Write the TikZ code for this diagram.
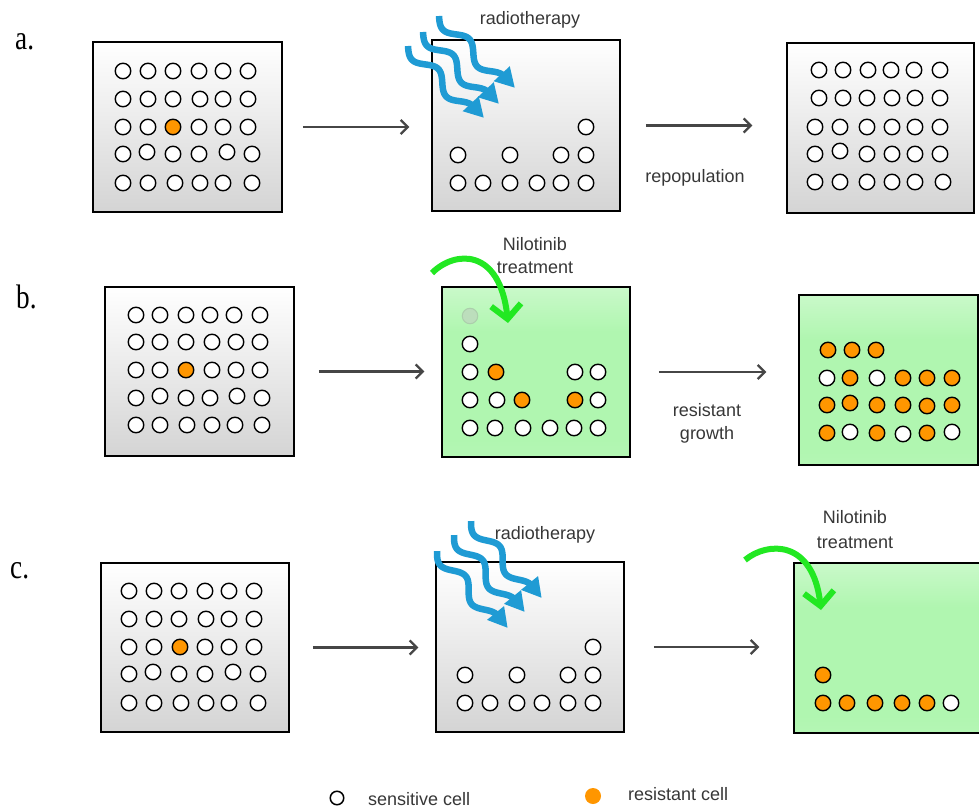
\documentclass[tikz,border=0pt]{standalone}
\usepackage{fontspec}
\setmainfont{Liberation Sans}
\newfontfamily\labelserif{Liberation Serif}
\usetikzlibrary{arrows.meta}

\definecolor{cellorange}{RGB}{255,150,0}
\definecolor{rayblue}{RGB}{31,155,212}
\definecolor{drugreen}{RGB}{34,232,34}
\definecolor{arrowgray}{RGB}{70,70,70}
\definecolor{textgray}{RGB}{55,55,55}
\definecolor{boxgray}{RGB}{212,212,212}
\definecolor{midgreen}{RGB}{176,246,176}
\definecolor{palegreen}{RGB}{250,255,250}
\definecolor{lowgreen}{RGB}{202,250,202}
\definecolor{deadfill}{RGB}{188,222,188}
\definecolor{deadline}{RGB}{172,206,172}

% culture medium with drug: pale at the top, green through the middle
\pgfdeclareverticalshading{culture}{100bp}{%
  color(0bp)=(lowgreen); color(30bp)=(midgreen); color(62bp)=(midgreen);
  color(100bp)=(palegreen)}

% one culture dish: name, left, top, right, bottom, style
\newcommand\dish[6]{%
  \node[#6, minimum width={(#4-#2)*1pt}, minimum height={(#5-#3)*1pt}]
    (#1) at ({(#2+#4)/2},{(#3+#5)/2}) {};}

% wavy radiation arrow: start x, start y, direction angle
% the wave ends in a trough (7.159 degrees per unit), where the head sits
\newcommand\raywave[3]{%
  \begin{scope}[shift={(#1,#2)}, rotate=#3]
    \draw[ray] plot[domain=0:88, samples=60, smooth] (\x,{6.5*sin(7.159*\x)});
    \fill[rayblue] (85,-17.5) -- (104,-6.5) -- (85,4.5) -- cycle;
  \end{scope}}

\begin{document}
\begin{tikzpicture}[x=1pt, y=-1pt,
  graydish/.style={draw=black, line width=1.5pt, inner sep=0,
    shading=axis, top color=white, bottom color=boxgray},
  greendish/.style={draw=black, line width=1.5pt, inner sep=0,
    shading=culture},
  cellw/.style={circle, draw=black, line width=1.4pt, fill=white,
    minimum size=15.5pt, inner sep=0},
  cello/.style={cellw, fill=cellorange},
  celld/.style={circle, draw=deadline, line width=1pt, fill=deadfill,
    minimum size=15.5pt, inner sep=0},
  flow/.style={draw=arrowgray, line width=2.2pt,
    -{Straight Barb[length=7pt, width=14pt]}},
  ray/.style={draw=rayblue, line width=6.5pt, line cap=butt},
  drug/.style={draw=drugreen, line width=6pt,
    -{Straight Barb[length=14pt, width=30pt]}},
  lbl/.style={font=\fontsize{18}{23}\selectfont, text=textgray,
    align=center, inner sep=0},
  panel/.style={font=\labelserif\fontsize{34}{34}\selectfont,
    anchor=base west, inner sep=0}]

\useasboundingbox (0,0) rectangle (979,810);

% ---------------- panel labels ----------------
\node[panel] (labA) at (15,50)  {\scalebox{0.8}[1]{a.}};
\node[panel] (labB) at (16,308) {\scalebox{0.8}[1]{b.}};
\node[panel] (labC) at (10,578) {\scalebox{0.8}[1]{c.}};

% ---------------- dishes ----------------
\dish{A1}{93}{42}{282}{212}{graydish}
\dish{A2}{432}{40}{620}{211}{graydish}
\dish{A3}{787}{43}{974}{213}{graydish}
\dish{B1}{105}{287}{294}{456}{graydish}
\dish{B2}{442}{287}{630}{457}{greendish}
\dish{B3}{799}{295}{978}{465}{greendish}
\dish{C1}{101}{563}{289}{732}{graydish}
\dish{C2}{436}{562}{624}{732}{graydish}
\dish{C3}{794}{563}{982}{733}{greendish}

% ---------------- cells ----------------
% row a
\foreach \px/\py/\t [count=\k] in {
  123/71/w,148/71/w,173/71/w,199/71/w,223/71/w,248/71/w,
  123/99/w,148/99/w,173/99/w,200/99/w,223/99/w,248/99/w,
  123/127/w,148/127/w,173/127/o,199/127/w,223/127/w,248/127/w,
  123/154/w,147/152/w,173/154/w,199/154/w,227/152/w,252/154/w,
  123/183/w,148/183/w,175/183/w,200/183/w,223/183/w,252/183/w}
  \node[cell\t] (a1-\k) at (\px,\py) {};
\foreach \px/\py/\t [count=\k] in {
  586/127/w,
  458/155/w,510/155/w,561/155/w,586/155/w,
  458/183/w,483/183/w,510/183/w,537/183/w,561/183/w,586/183/w}
  \node[cell\t] (a2-\k) at (\px,\py) {};
\foreach \px/\py/\t [count=\k] in {
  819/70/w,843/70/w,868/70/w,891/70/w,914/70/w,940/70/w,
  819/98/w,843/98/w,867/98/w,892/98/w,915/98/w,940/98/w,
  815/127/w,840/127/w,867/127/w,892/127/w,915/127/w,940/127/w,
  815/154/w,840/151/w,867/154/w,892/154/w,915/154/w,940/154/w,
  815/182/w,840/182/w,867/182/w,892/182/w,915/182/w,943/182/w}
  \node[cell\t] (a3-\k) at (\px,\py) {};

% row b
\foreach \px/\py/\t [count=\k] in {
  136/315/w,160/315/w,186/315/w,210/315/w,234/315/w,260/315/w,
  136/342/w,160/342/w,186/342/w,212/342/w,236/342/w,260/342/w,
  136/370/w,160/370/w,186/370/o,212/370/w,236/370/w,260/370/w,
  136/398/w,160/396/w,186/398/w,210/398/w,237/396/w,262/398/w,
  136/425/w,160/425/w,187/425/w,212/425/w,235/425/w,262/425/w}
  \node[cell\t] (b1-\k) at (\px,\py) {};
\foreach \px/\py/\t [count=\k] in {
  470/316/d,
  470/344/w,
  470/372/w,496/372/o,575/372/w,598/372/w,
  470/400/w,497/400/w,522/400/o,575/400/o,598/400/w,
  470/428/w,495/428/w,523/428/w,550/428/w,574/428/w,598/428/w}
  \node[cell\t] (b2-\k) at (\px,\py) {};
\foreach \px/\py/\t [count=\k] in {
  828/350/o,852/350/o,876/350/o,
  827/378/w,850/378/o,877/378/w,903/378/o,927/378/o,952/378/o,
  827/405/o,850/403/o,877/405/o,903/405/o,927/406/o,952/405/o,
  827/433/o,850/432/w,877/433/o,903/434/w,927/433/o,952/432/w}
  \node[cell\t] (b3-\k) at (\px,\py) {};

% row c
\foreach \px/\py/\t [count=\k] in {
  129/591/w,154/591/w,179/591/w,205/591/w,229/591/w,254/591/w,
  129/619/w,154/619/w,179/619/w,206/619/w,229/619/w,254/619/w,
  129/647/w,154/647/w,180/647/o,205/647/w,229/647/w,254/647/w,
  129/674/w,153/672/w,179/674/w,205/674/w,233/672/w,258/674/w,
  129/703/w,154/703/w,181/703/w,206/703/w,229/703/w,258/703/w}
  \node[cell\t] (c1-\k) at (\px,\py) {};
\foreach \px/\py/\t [count=\k] in {
  593/647/w,
  465/675/w,517/675/w,568/675/w,593/675/w,
  465/703/w,490/703/w,517/703/w,542/703/w,568/703/w,593/703/w}
  \node[cell\t] (c2-\k) at (\px,\py) {};
\foreach \px/\py/\t [count=\k] in {
  823/675/o,
  823/703/o,847/703/o,875/703/o,902/703/o,927/703/o,951/703/w}
  \node[cell\t] (c3-\k) at (\px,\py) {};

% ---------------- transitions between dishes ----------------
\draw[flow, shorten <=20pt, shorten >=22pt] (A1.east) -- (A1.east -| A2.west);
\draw[flow, shorten <=25pt, shorten >=34pt] (A2.east) -- (A2.east -| A3.west);
\draw[flow, shorten <=24pt, shorten >=17pt] (B1.east) -- (B1.east -| B2.west);
\draw[flow, shorten <=28pt, shorten >=32pt] (B2.east) -- (B2.east -| B3.west);
\draw[flow, shorten <=23pt, shorten >=17pt] (C1.east) -- (C1.east -| C2.west);
\draw[flow, shorten <=29pt, shorten >=34pt] (C2.east) -- (C2.east -| C3.west);

% ---------------- radiation ----------------
\raywave{408}{46}{-47}
\raywave{423}{32}{-47}
\raywave{439}{16}{-47}
\raywave{437}{551}{-51}
\raywave{454}{535}{-51}
\raywave{471}{521}{-51}

% ---------------- drug arrows ----------------
\coordinate (drugB0) at (432,273);
\coordinate (drugB1) at (508,323);
\draw[drug] (drugB0) .. controls (455,250) and (500,248) .. (drugB1);
\coordinate (drugC0) at (745,560);
\coordinate (drugC1) at (821,610);
\draw[drug] (drugC0) .. controls (768,541) and (813,540) .. (drugC1);

% ---------------- texts ----------------
\node[lbl] (txtRadA) at (530,20) {radiotherapy};
\node[lbl] (txtRepop) at (695,178) {repopulation};
\node[lbl] (txtNiloB) at (535,256) {Nilotinib\\treatment};
\node[lbl] (txtGrowth) at (707,423) {resistant\\growth};
\node[lbl] (txtRadC) at (545,535) {radiotherapy};
\node[lbl, font=\fontsize{18}{25}\selectfont] (txtNiloC) at (855,530) {Nilotinib\\treatment};

% ---------------- legend ----------------
\node[cellw, minimum size=13.5pt, line width=1.5pt] (legSens) at (337,798) {};
\node[lbl, anchor=base west] (legSensTxt) at (368,805) {sensitive cell};
\node[circle, fill=cellorange, minimum size=16pt, inner sep=0] (legRes) at (593,796) {};
\node[lbl, anchor=base west] (legResTxt) at (628,800) {resistant cell};

\end{tikzpicture}
\end{document}
